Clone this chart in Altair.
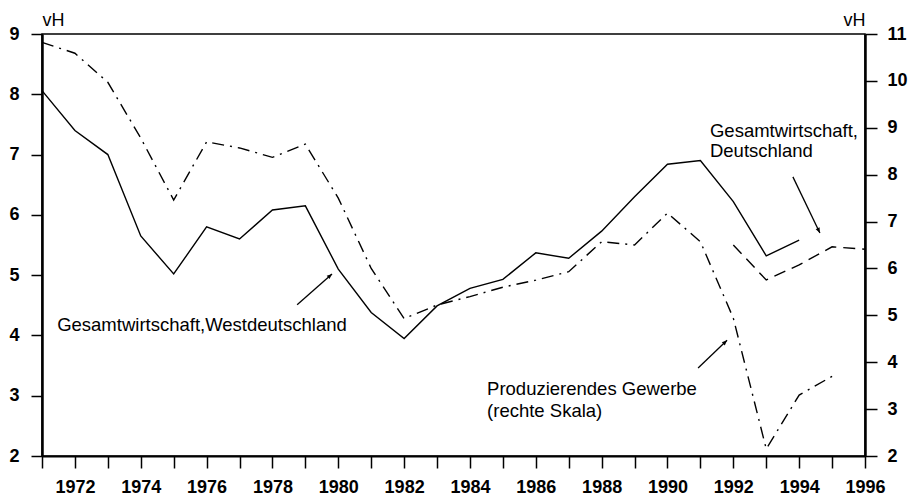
import altair as alt
import pandas as pd

# ---- data ----
years_west = list(range(1971, 1995))
west = [8.06, 7.40, 7.00, 5.65, 5.02, 5.80, 5.60, 6.08, 6.15, 5.10, 4.38, 3.95,
        4.49, 4.78, 4.93, 5.37, 5.28, 5.73, 6.30, 6.84, 6.90, 6.22, 5.32, 5.58]

years_gew = list(range(1971, 1996))
gewerbe = [10.82, 10.59, 9.97, 8.78, 7.46, 8.70, 8.57, 8.37, 8.65, 7.50, 6.00, 4.93,
           5.22, 5.40, 5.60, 5.75, 5.93, 6.57, 6.50, 7.18, 6.57, 4.94, 2.15, 3.30, 3.70]

years_de = list(range(1992, 1997))
deutschland = [5.50, 4.92, 5.17, 5.47, 5.43]

x_ticks = list(range(1971, 1997))
left_ticks = list(range(2, 10))
right_ticks = list(range(2, 12))

ann_text = ["Gesamtwirtschaft,Westdeutschland", "Produzierendes Gewerbe",
            "(rechte Skala)", "Gesamtwirtschaft,", "Deutschland"]
ann_year = [1971.46, 1984.52, 1984.52, 1991.29, 1991.29]
ann_val = [4.17, 3.11, 2.75, 7.39, 7.06]

arrow_from_year = [1978.75, 1990.93, 1993.81]
arrow_from_val = [4.51, 3.46, 6.63]
arrow_to_year = [1979.81, 1991.81, 1994.63]
arrow_to_val = [5.02, 3.92, 5.70]
arrow_angle = [48.5, 46.0, 154.3]

FONT = "Liberation Sans"

df_west = pd.DataFrame({"year": years_west, "val": west})
df_de = pd.DataFrame({"year": years_de, "val": deutschland})
df_gew = pd.DataFrame({"year": years_gew, "val": gewerbe})
df_ann = pd.DataFrame({"year": ann_year, "val": ann_val, "label": ann_text})
df_arrow = pd.DataFrame({"year": arrow_from_year, "val": arrow_from_val,
                         "year2": arrow_to_year, "val2": arrow_to_val})
df_head = pd.DataFrame({"year": arrow_to_year, "val": arrow_to_val, "angle": arrow_angle})

x_enc = alt.X(
    "year:Q",
    scale=alt.Scale(domain=[1971, 1996], nice=False, zero=False),
    axis=alt.Axis(
        values=x_ticks, format="d",
        labelExpr="datum.value % 2 == 0 ? datum.label : ''",
        title=None, grid=False, tickSize=12, tickWidth=1.5, tickColor="black",
        domainColor="black", domainWidth=2, labelFontSize=18, labelFont=FONT,
        labelFontWeight="bold",
        labelColor="black", labelPadding=10, labelFlush=False, labelOverlap=False,
    ),
)

yl_enc = alt.Y(
    "val:Q",
    scale=alt.Scale(domain=[2, 9], nice=False, zero=False),
    axis=alt.Axis(
        orient="left", values=left_ticks, format="d", grid=False,
        title="vH", titleAngle=0, titleX=0, titleY=-9, titleAlign="left",
        titleBaseline="alphabetic", titleFontSize=18, titleFont=FONT,
        titleFontWeight="normal", titleColor="black",
        tickSize=11, tickWidth=1.5, tickColor="black",
        domainColor="black", domainWidth=2.5,
        labelFontSize=18, labelFont=FONT, labelFontWeight="bold",
        labelColor="black", labelPadding=12,
    ),
)

yr_enc = alt.Y(
    "val:Q",
    scale=alt.Scale(domain=[2, 11], nice=False, zero=False),
    axis=alt.Axis(
        orient="right", values=right_ticks, format="d", grid=False,
        title="vH", titleAngle=0, titleX=0, titleY=-9, titleAlign="right",
        titleBaseline="alphabetic", titleFontSize=18, titleFont=FONT,
        titleFontWeight="normal", titleColor="black",
        tickSize=12, tickWidth=1.5, tickColor="black",
        domainColor="black", domainWidth=2.5,
        labelFontSize=18, labelFont=FONT, labelFontWeight="bold",
        labelColor="black", labelPadding=10,
    ),
)

west_line = alt.Chart(df_west).mark_line(color="black", strokeWidth=1.4).encode(x=x_enc, y=yl_enc)
de_line = alt.Chart(df_de).mark_line(color="black", strokeWidth=1.4, strokeDash=[12, 7]).encode(x=x_enc, y=yl_enc)
texts = alt.Chart(df_ann).mark_text(
    align="left", baseline="middle", fontSize=18.5, font=FONT, color="black"
).encode(x=x_enc, y=yl_enc, text="label:N")
arrows = alt.Chart(df_arrow).mark_rule(color="black", strokeWidth=1.3).encode(
    x=x_enc, y=yl_enc, x2="year2:Q", y2="val2:Q")
heads = alt.Chart(df_head).mark_point(
    shape="M0,0L-0.45,1.1L0.45,1.1Z", filled=True, color="black", size=90, opacity=1
).encode(x=x_enc, y=yl_enc, angle=alt.Angle("angle:Q", scale=None))

left = alt.layer(west_line, de_line, texts, arrows, heads)

gew_line = alt.Chart(df_gew).mark_line(
    color="black", strokeWidth=1.4, strokeDash=[12, 6, 2, 6]
).encode(x=x_enc, y=yr_enc)

chart = alt.layer(left, gew_line).resolve_scale(y="independent").properties(
    width=823, height=422,
    autosize=alt.AutoSizeParams(type="none"),
    padding={"left": 34, "top": 26, "right": 47, "bottom": 41},
    background="white",
).configure_view(stroke="black", strokeWidth=1.5)

chart.save("out.html", embed_options={"renderer": "svg", "actions": False})
